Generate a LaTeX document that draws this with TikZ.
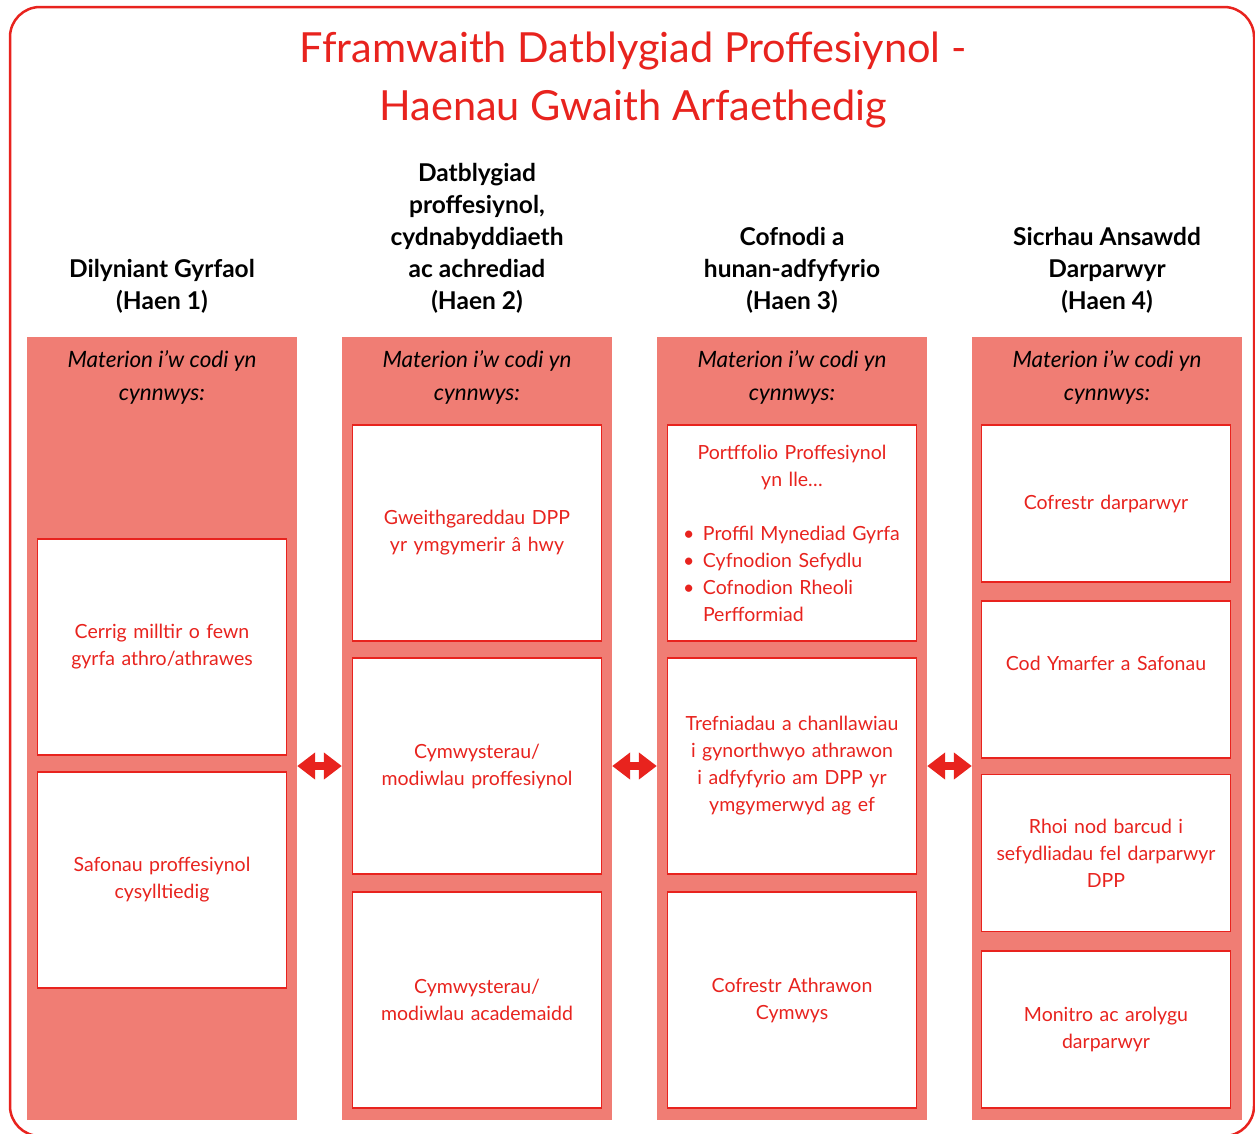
\documentclass[tikz,border=0pt]{standalone}
\usepackage{fontspec}
\setmainfont{Lato}
\usepackage{tikz}
\usetikzlibrary{arrows.meta}

\definecolor{dppred}{RGB}{232,35,30}
\definecolor{dppsalmon}{RGB}{240,125,116}

\begin{document}
\begin{tikzpicture}[x=1pt,y=-1pt]
\tikzstyle{column} = [fill=dppsalmon,minimum width=270pt,minimum height=783pt,inner sep=0pt];
\tikzstyle{item} = [draw=dppred,fill=white,line width=1.5pt,minimum width=249pt,text width=230pt,align=center,text=dppred,font=\fontsize{19.5}{27}\selectfont];
\tikzstyle{head} = [align=center,font=\bfseries\fontsize{24.5}{32}\selectfont];
\tikzstyle{issues} = [align=center,font=\itshape\fontsize{22.5}{33}\selectfont];
\tikzstyle{link} = [draw=dppred,line width=8pt,{Triangle[width=26pt,length=18pt]}-{Triangle[width=26pt,length=18pt]}];
\useasboundingbox (0,0) rectangle (1255,1133);
\draw[dppred,line width=2.5pt,rounded corners=30pt] (10,7) rectangle (1254,1136);

\node[text=dppred,align=center,font=\fontsize{41.5}{58}\selectfont] (title) at (633,80) {Fframwaith Datblygiad Proffesiynol -\\Haenau Gwaith Arfaethedig};

% headings
\node[head] (h1) at (162,286) {Dilyniant Gyrfaol\\(Haen 1)};
\node[head] (h2) at (477,238) {Datblygiad\\proffesiynol,\\cydnabyddiaeth\\ac achrediad\\(Haen 2)};
\node[head] (h3) at (792,270) {Cofnodi a\\hunan-adfyfyrio\\(Haen 3)};
\node[head] (h4) at (1107,270) {Sicrhau Ansawdd\\Darparwyr\\(Haen 4)};

% columns
\node[column] (c1) at (162,728.5) {};
\node[column] (c2) at (477,728.5) {};
\node[column] (c3) at (792,728.5) {};
\node[column] (c4) at (1107,728.5) {};
\foreach \c in {1,...,4}
  \node[issues,below=10pt] (m\c) at (c\c.north) {Materion i'w codi yn\\cynnwys:};

% haen 1
\node[item,minimum height=216pt] (a1) at (162,647) {Cerrig milltir o fewn\\gyrfa athro/athrawes};
\node[item,minimum height=216pt] (a2) at (162,880) {Safonau proffesiynol\\cysylltiedig};

% haen 2
\node[item,minimum height=216pt] (b1) at (477,533) {Gweithgareddau DPP\\yr ymgymerir â hwy};
\node[item,minimum height=216pt] (b2) at (477,766) {Cymwysterau/\\modiwlau proffesiynol};
\node[item,minimum height=216pt] (b3) at (477,1000) {Cymwysterau/\\modiwlau academaidd};

% haen 3
\node[item,minimum height=216pt] (d1) at (792,533) {Portffolio Proffesiynol\\yn lle\ldots\\[27pt]
  \makebox[230pt][l]{\hspace{6pt}\makebox[20pt][l]{\textbullet}Proffil Mynediad Gyrfa}\\
  \makebox[230pt][l]{\hspace{6pt}\makebox[20pt][l]{\textbullet}Cyfnodion Sefydlu}\\
  \makebox[230pt][l]{\hspace{6pt}\makebox[20pt][l]{\textbullet}Cofnodion Rheoli}\\
  \makebox[230pt][l]{\hspace{26pt}Perfformiad}};
\node[item,minimum height=216pt] (d2) at (792,766) {Trefniadau a chanllawiau\\i gynorthwyo athrawon\\i adfyfyrio am DPP yr\\ymgymerwyd ag ef};
\node[item,minimum height=216pt] (d3) at (792,1000) {Cofrestr Athrawon\\Cymwys};

% haen 4
\node[item,minimum height=157pt] (e1) at (1106,503.5) {Cofrestr darparwyr};
\node[item,minimum height=157pt] (e2) at (1106,679.5) {\raisebox{16pt}[\height][\depth]{Cod Ymarfer a Safonau}};
\node[item,minimum height=157pt] (e3) at (1106,853) {Rhoi nod barcud i\\sefydliadau fel darparwyr\\DPP};
\node[item,minimum height=157pt] (e4) at (1106,1029.5) {Monitro ac arolygu\\darparwyr};

% links between columns
\draw[link] (c1.east|-b2) -- (c2.west|-b2);
\draw[link] (c2.east|-b2) -- (c3.west|-b2);
\draw[link] (c3.east|-b2) -- (c4.west|-b2);
\end{tikzpicture}
\end{document}
